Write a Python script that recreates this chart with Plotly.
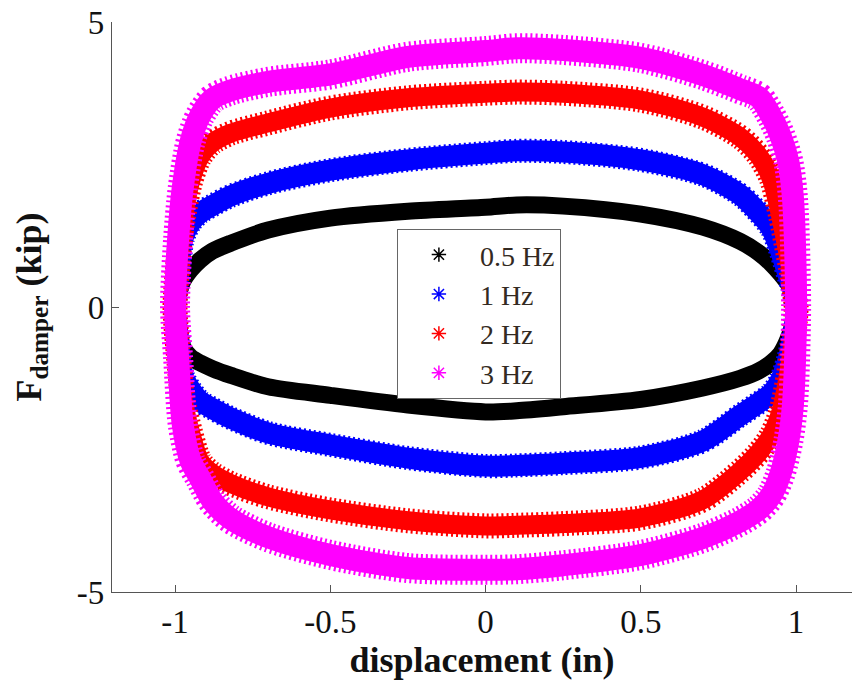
import plotly.graph_objects as go

# displacement grid (in) at which the loop branches were read
disp = [-1.0, -0.99, -0.975, -0.95, -0.92, -0.88, -0.82, -0.7, -0.5, -0.25,
        0.0, 0.1, 0.25, 0.5, 0.7, 0.82, 0.88, 0.92, 0.95, 0.975, 0.99, 1.0]

# damper force (kip), upper and lower branches of each loop
f05_up = [0, 0.2, 0.45, 0.65, 0.82, 0.98, 1.12, 1.35, 1.56, 1.68,
          1.75, 1.79, 1.77, 1.63, 1.40, 1.15, 0.95, 0.76, 0.58, 0.40, 0.22, 0]
f05_lo = [0, -0.35, -0.70, -0.88, -0.98, -1.08, -1.20, -1.40, -1.55, -1.72,
          -1.84, -1.82, -1.75, -1.62, -1.42, -1.25, -1.12, -0.98, -0.82, -0.55, -0.30, 0]

f1_up = [0, 0.5, 1.2, 1.48, 1.65, 1.78, 1.95, 2.17, 2.40, 2.58,
         2.70, 2.74, 2.72, 2.58, 2.32, 1.97, 1.65, 1.38, 0.98, 0.55, 0.30, 0]
f1_lo = [0, -0.5, -1.2, -1.45, -1.65, -1.78, -1.95, -2.21, -2.42, -2.65,
         -2.79, -2.78, -2.74, -2.64, -2.35, -1.90, -1.68, -1.52, -1.28, -0.90, -0.50, 0]

f2_up = [0, 0.8, 1.5, 2.2, 2.63, 2.88, 3.05, 3.23, 3.49, 3.67,
         3.75, 3.77, 3.75, 3.63, 3.33, 2.98, 2.65, 2.25, 1.60, 0.90, 0.45, 0]
f2_lo = [0, -0.8, -1.6, -2.2, -2.7, -2.92, -3.10, -3.33, -3.56, -3.75,
         -3.84, -3.83, -3.80, -3.70, -3.38, -2.88, -2.55, -2.25, -1.85, -1.20, -0.60, 0]

f3_up = [0, 1.2, 2.1, 2.9, 3.35, 3.65, 3.80, 3.95, 4.08, 4.39,
         4.49, 4.54, 4.51, 4.37, 4.07, 3.82, 3.68, 3.35, 3.00, 2.55, 1.90, 0]
f3_lo = [0, -0.9, -2.07, -2.7, -3.0, -3.4, -3.72, -4.04, -4.35, -4.58,
         -4.61, -4.60, -4.53, -4.35, -4.05, -3.76, -3.55, -3.30, -2.92, -2.35, -1.70, 0]

names = ["0.5 Hz", "1 Hz", "2 Hz", "3 Hz"]
uppers = [f05_up, f1_up, f2_up, f3_up]
lowers = [f05_lo, f1_lo, f2_lo, f3_lo]
colors = ["#000000", "#0000FF", "#FF0000", "#FF00FF"]
widths = [17, 21, 19, 22]
fringe = [0, 3, 6, 8]   # extra width of the serrated (asterisk-like) fringe

x_ticks = [-1, -0.5, 0, 0.5, 1]
y_ticks = [-5, 0, 5]

FONT = "Liberation Serif, Times New Roman, serif"

fig = go.Figure()
for name, up, lo, c, w, fr in zip(names, uppers, lowers, colors, widths, fringe):
    xs = list(disp) + list(reversed(disp))[1:]
    ys = list(up) + list(reversed(lo))[1:]
    if fr:
        fig.add_trace(go.Scatter(x=xs, y=ys, mode="lines",
                                 line=dict(color=c, width=w + fr, shape="spline", smoothing=0.8,
                                           dash="2px,3px"),
                                 showlegend=False, hoverinfo="skip"))
    fig.add_trace(go.Scatter(x=xs, y=ys, mode="lines",
                             line=dict(color=c, width=w, shape="spline", smoothing=0.8),
                             showlegend=False, hoverinfo="skip"))
for name, c in zip(names, colors):
    fig.add_trace(go.Scatter(x=[None], y=[None], mode="markers", name=name,
                             marker=dict(symbol="asterisk-open", size=12,
                                         line=dict(color=c, width=1.5), color=c)))

axis_common = dict(showgrid=False, zeroline=False, showline=True, linecolor="#555555",
                   linewidth=1.2, ticks="inside", ticklen=7, tickcolor="#555555",
                   tickfont=dict(family=FONT, size=33, color="#111111"))

fig.update_layout(
    width=852, height=688,
    margin=dict(l=112, r=0, t=22, b=96),
    paper_bgcolor="white", plot_bgcolor="white",
    xaxis=dict(range=[-1.203, 1.18], tickvals=x_ticks, ticktext=[str(v) for v in x_ticks],
               title=dict(text="<b>displacement (in)</b>", font=dict(family=FONT, size=36, color="#111111"),
                          standoff=8),
               **axis_common),
    yaxis=dict(range=[-5, 5], tickvals=y_ticks, ticktext=[str(v) for v in y_ticks],
               title=dict(text="<b>F<sub>damper</sub> (kip)</b>", font=dict(family=FONT, size=36, color="#111111"),
                          standoff=24),
               **axis_common),
    legend=dict(x=0.385, y=0.637, xanchor="left", yanchor="top",
                bgcolor="white", bordercolor="#666666", borderwidth=1,
                font=dict(family=FONT, size=28, color="#332a22"),
                itemwidth=72, tracegroupgap=0),
)

fig.write_html("out.html")
